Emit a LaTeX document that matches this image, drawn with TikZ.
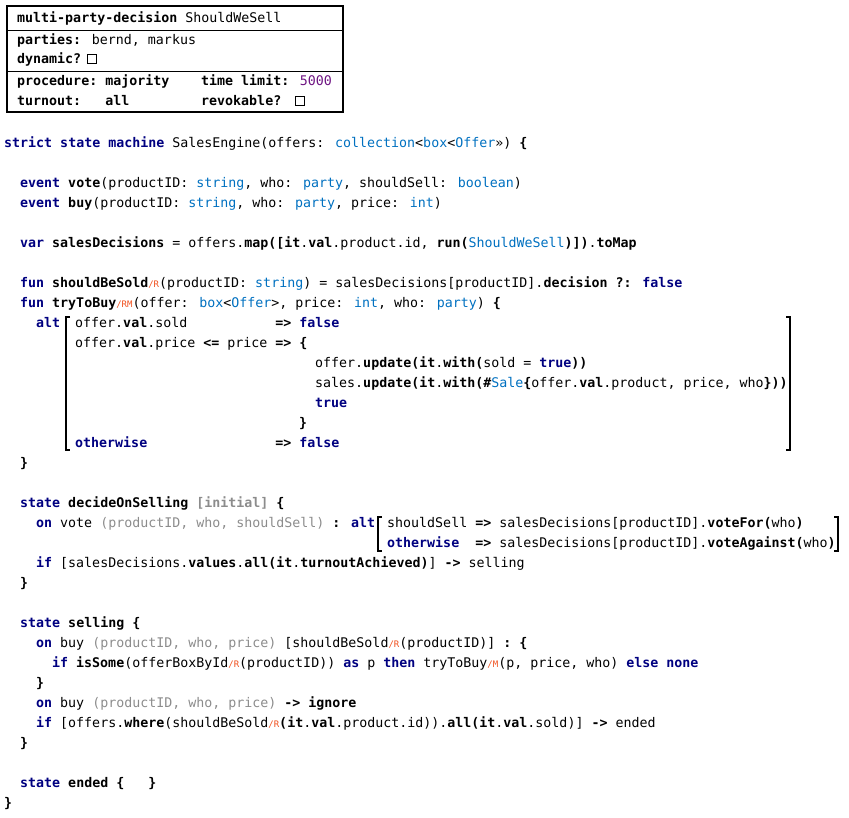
\documentclass[tikz,border=0pt]{standalone}
\usepackage{fontspec}
\setmainfont{DejaVu Sans Mono}
\definecolor{kwc}{RGB}{0,0,128}
\definecolor{tyc}{RGB}{0,112,192}
\definecolor{grc}{RGB}{140,140,140}
\definecolor{rdc}{RGB}{240,80,30}
\definecolor{puc}{RGB}{110,20,130}
\newcommand{\kw}[1]{\textbf{\color{kwc}#1}}
\newcommand{\bd}[1]{\textbf{#1}}
\newcommand{\ty}[1]{{\color{tyc}#1}}
\newcommand{\gy}[1]{{\color{grc}#1}}
\newcommand{\rd}[1]{{\color{rdc}\fontsize{9}{9}\selectfont/#1}}
\begin{document}
\begin{tikzpicture}[x=1pt,y=-1pt,
  ln/.style={anchor=base west,inner sep=0pt,font=\fontsize{13.3}{20}\selectfont},
  cbox/.style={draw,line width=1.3pt,minimum size=9pt,inner sep=0pt,anchor=center},
  brk/.style={line width=1.5pt}]
\useasboundingbox (0,0) rectangle (849,817);
% decision box
\draw[line width=1.5pt] (7,6) rectangle (343,112);
\draw[line width=1pt] (7,30) -- (343,30);
\draw[line width=1pt] (7,71) -- (343,71);
\node[ln] (h1) at (17,22.5) {\bd{multi-party-decision} ShouldWeSell};
\node[ln] (h2) at (17,44.5) {\bd{parties:} bernd, markus};
\node[ln] (h3) at (17,63.5) {\bd{dynamic?}};
\node[cbox] (cb1) at (92,59) {};
\node[ln] (h4) at (17,85.5) {\bd{procedure:~majority}};
\node[ln] (h5) at (201,85.5) {\bd{time limit:} {\color{puc}5000}};
\node[ln] (h6) at (17,105.5) {\bd{turnout:~~~all}};
\node[ln] (h7) at (201,105.5) {\bd{revokable?}};
\node[cbox] (cb2) at (300,101) {};
% code
\node[ln] (l1) at (4,147.5) {\kw{strict state machine} SalesEngine(offers: \ty{collection}<\ty{box}<\ty{Offer}>>) \bd{\{}};
\node[ln] (l2) at (20,187.5) {\kw{event} \bd{vote}(productID: \ty{string}, who: \ty{party}, shouldSell: \ty{boolean})};
\node[ln] (l3) at (20,207.5) {\kw{event} \bd{buy}(productID: \ty{string}, who: \ty{party}, price: \ty{int})};
\node[ln] (l4) at (20,247.5) {\kw{var} \bd{salesDecisions} = offers.\bd{map([it}.\bd{val}.product.id, \bd{run(}\ty{ShouldWeSell}\bd{)])}.\bd{toMap}};
\node[ln] (l5) at (20,287.5) {\kw{fun} \bd{shouldBeSold}\rd{R}(productID: \ty{string}) = salesDecisions[productID].\bd{decision} \bd{?:} \kw{false}};
\node[ln] (l6) at (20,307.5) {\kw{fun} \bd{tryToBuy}\rd{RM}(offer: \ty{box}<\ty{Offer}>, price: \ty{int}, who: \ty{party}) \bd{\{}};
\node[ln] (l7) at (36,327.5) {\kw{alt}};
\node[ln] (l8) at (75,327.5) {offer.\bd{val}.sold~~~~~~~~~~~\bd{=>} \kw{false}};
\node[ln] (l9) at (75,347.5) {offer.\bd{val}.price \bd{<=} price \bd{=>} \bd{\{}};
\node[ln] (l10) at (315,367.5) {offer.\bd{update(it}.\bd{with(}sold = \kw{true}\bd{))}};
\node[ln] (l11) at (315,387.5) {sales.\bd{update(it}.\bd{with(\#}\ty{Sale}\bd{\{}offer.\bd{val}.product, price, who\bd{\}))}};
\node[ln] (l12) at (315,407.5) {\kw{true}};
\node[ln] (l13) at (299,427.5) {\bd{\}}};
\node[ln] (l14) at (75,447.5) {\kw{otherwise}~~~~~~~~~~~~~~~~\bd{=>} \kw{false}};
\node[ln] (l15) at (20,467.5) {\bd{\}}};
\draw[brk] (70,317) -- (66,317) -- (66,450) -- (70,450);
\draw[brk] (786,317) -- (790,317) -- (790,450) -- (786,450);
\node[ln] (l16) at (20,507.5) {\kw{state} \bd{decideOnSelling} \textbf{\gy{[initial]}} \bd{\{}};
\node[ln] (l17) at (36,527.5) {\kw{on} vote \gy{(productID, who, shouldSell)} \bd{:} \kw{alt}};
\node[ln] (l18) at (387,527.5) {shouldSell \bd{=>} salesDecisions[productID].\bd{voteFor(}who\bd{)}};
\node[ln] (l19) at (387,547.5) {\kw{otherwise}~~\bd{=>} salesDecisions[productID].\bd{voteAgainst(}who\bd{)}};
\draw[brk] (382,517) -- (378,517) -- (378,551) -- (382,551);
\draw[brk] (834,517) -- (838,517) -- (838,551) -- (834,551);
\node[ln] (l20) at (36,567.5) {\kw{if} [salesDecisions.\bd{values}.\bd{all(it}.\bd{turnoutAchieved)}] \bd{->} selling};
\node[ln] (l21) at (20,587.5) {\bd{\}}};
\node[ln] (l22) at (20,627.5) {\kw{state} \bd{selling} \bd{\{}};
\node[ln] (l23) at (36,647.5) {\kw{on} buy \gy{(productID, who, price)} [shouldBeSold\rd{R}(productID)] \bd{:} \bd{\{}};
\node[ln] (l24) at (52,667.5) {\kw{if} \bd{isSome}(offerBoxById\rd{R}(productID)) \kw{as} p \kw{then} tryToBuy\rd{M}(p, price, who) \kw{else} \kw{none}};
\node[ln] (l25) at (36,687.5) {\bd{\}}};
\node[ln] (l26) at (36,707.5) {\kw{on} buy \gy{(productID, who, price)} \bd{->} \bd{ignore}};
\node[ln] (l27) at (36,727.5) {\kw{if} [offers.\bd{where}(shouldBeSold\rd{R}\bd{(it}.\bd{val}.product.id)).\bd{all(it}.\bd{val}.sold)] \bd{->} ended};
\node[ln] (l28) at (20,747.5) {\bd{\}}};
\node[ln] (l29) at (20,787.5) {\kw{state} \bd{ended} \bd{\{}~~~\bd{\}}};
\node[ln] (l30) at (4,807.5) {\bd{\}}};
\end{tikzpicture}
\end{document}
